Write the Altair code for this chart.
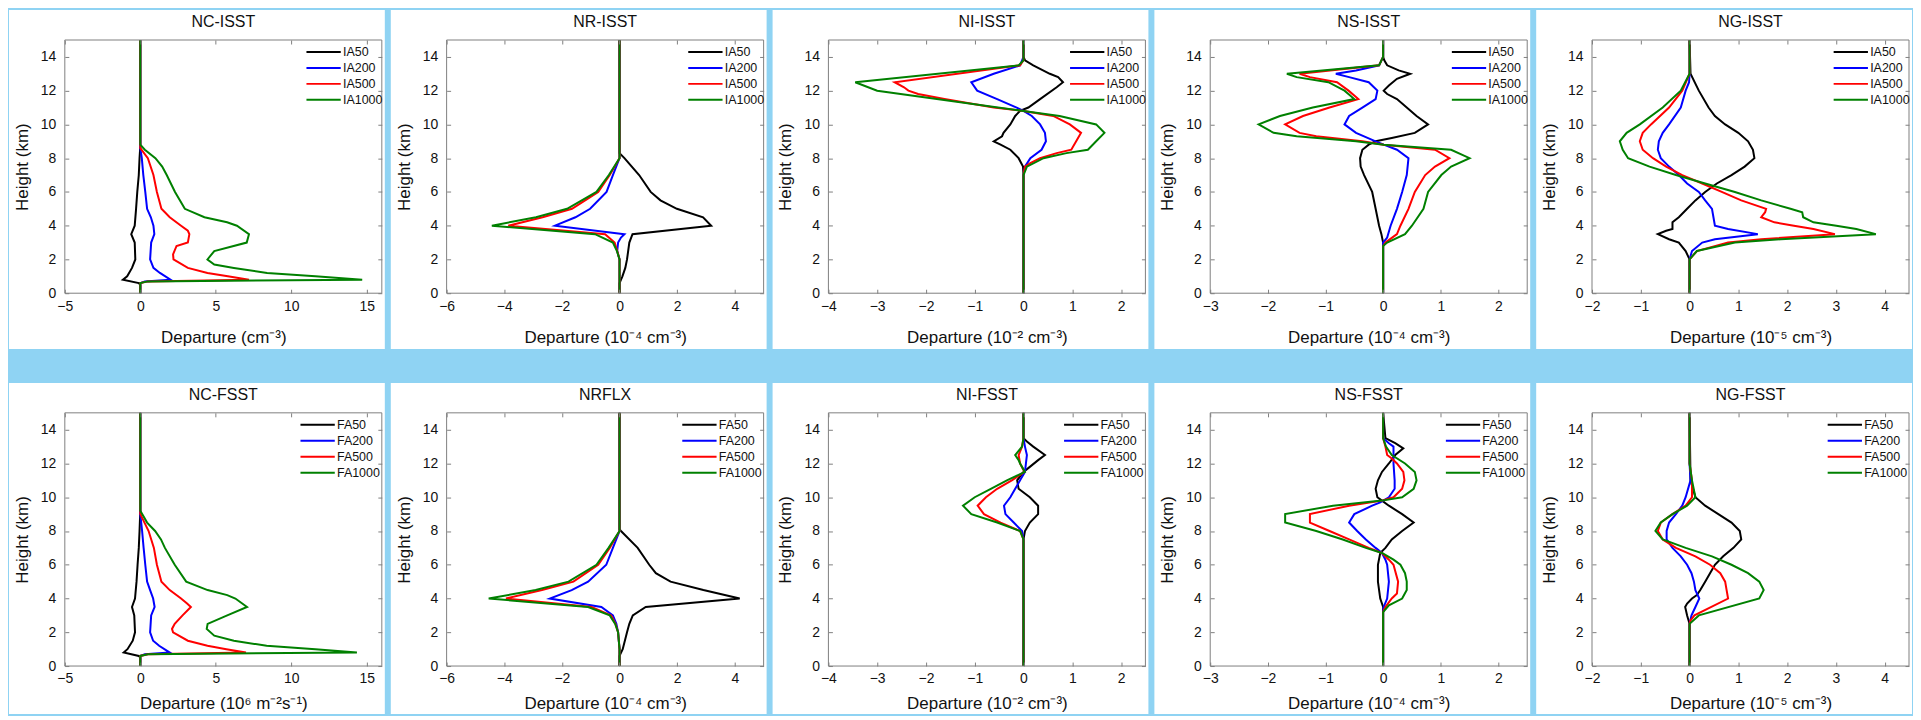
import altair as alt
import pandas as pd

W, H = 318, 254
FONT = "Liberation Sans"
HEIGHT_TICKS = [0, 2, 4, 6, 8, 10, 12, 14]
COLORS = ["#000000", "#0000ff", "#ff0000", "#008000"]
IA_NAMES = ["IA50", "IA200", "IA500", "IA1000"]
FA_NAMES = ["FA50", "FA200", "FA500", "FA1000"]

# ---- values: (height km, departure) ----
NC_ISST = {
    "IA50": [(15, 0), (8.7, 0), (8, -0.05), (7, -0.1), (6, -0.2), (5, -0.28), (4, -0.37), (3.5, -0.6), (3, -0.37), (2, -0.33), (1.5, -0.55), (1.0, -0.87), (0.8, -1.15), (0.6, -0.1), (0.5, 0), (0, 0)],
    "IA200": [(15, 0), (8.6, 0), (8, 0.1), (7, 0.2), (6, 0.33), (5, 0.45), (4.5, 0.7), (4, 0.87), (3.5, 0.93), (3, 0.72), (2, 0.65), (1.5, 0.87), (1.2, 1.3), (0.8, 2.0), (0.7, 0.3), (0.6, 0), (0, 0)],
    "IA500": [(15, 0), (8.6, 0), (8, 0.5), (7, 0.87), (6, 1.1), (5, 1.4), (4.5, 1.95), (4, 2.7), (3.7, 3.15), (3.5, 3.25), (3, 3.15), (2.8, 2.4), (2.3, 2.17), (2, 2.2), (1.5, 3.15), (1.2, 4.45), (1.0, 5.8), (0.8, 7.2), (0.7, 0.5), (0.6, 0), (0, 0)],
    "IA1000": [(15, 0), (8.8, 0), (8.5, 0.3), (8, 1.0), (7.5, 1.45), (7, 1.75), (6, 2.3), (5, 2.95), (4.5, 4.25), (4.2, 5.75), (4, 6.4), (3.5, 7.2), (3, 7.05), (2.5, 4.9), (2, 4.45), (1.7, 4.9), (1.5, 6.2), (1.2, 8.4), (1.0, 11.6), (0.8, 14.7), (0.7, 0.5), (0.6, 0), (0, 0)],
}
NR_ISST = {
    "IA50": [(15, 0), (8.3, 0), (8, 0.17), (7, 0.68), (6, 1.08), (5.5, 1.42), (5, 1.99), (4.5, 2.9), (4, 3.18), (3.5, 0.45), (3, 0.34), (2, 0.26), (1.5, 0.2), (1, 0.1), (0.6, 0), (0, 0)],
    "IA200": [(15, 0), (8.0, 0), (7, -0.23), (6, -0.45), (5, -1.02), (4.5, -1.53), (4, -2.24), (3.5, 0.17), (3.3, 0.05), (3, -0.05), (2.5, -0.08), (2, 0), (0, 0)],
    "IA500": [(15, 0), (8.0, 0), (7, -0.34), (6, -0.74), (5, -1.65), (4.5, -2.67), (4, -3.86), (3.5, -0.5), (3, -0.17), (2.5, -0.08), (2, 0), (0, 0)],
    "IA1000": [(15, 0), (8.0, 0), (7, -0.37), (6, -0.8), (5, -1.82), (4.5, -2.9), (4, -4.43), (3.5, -0.85), (3, -0.23), (2.5, -0.09), (2, 0), (0, 0)],
}
NI_ISST = {
    "IA50": [(15, 0), (14, 0), (13.8, 0.03), (13.5, 0.2), (13, 0.54), (12.8, 0.71), (12.5, 0.81), (12.2, 0.68), (11.5, 0.34), (11, 0.1), (10.8, -0.07), (10.5, -0.17), (10, -0.27), (9.5, -0.41), (9.3, -0.44), (9, -0.61), (8.8, -0.47), (8.5, -0.27), (8, -0.1), (7.5, -0.01), (7, 0), (0, 0)],
    "IA200": [(15, 0), (14, 0), (13.5, -0.07), (13, -0.61), (12.5, -1.07), (12, -0.95), (11.5, -0.54), (11, -0.14), (10.8, 0), (10.5, 0.17), (10, 0.34), (9.5, 0.44), (9, 0.46), (8.5, 0.37), (8, 0.14), (7.5, 0.03), (7, 0), (0, 0)],
    "IA500": [(15, 0), (13.8, 0), (13.5, -0.07), (12.5, -2.64), (12.2, -2.45), (12, -2.36), (11.8, -2.16), (11.5, -1.62), (11, -0.61), (10.8, 0), (10.5, 0.61), (10, 0.95), (9.5, 1.18), (9, 1.08), (8.5, 0.98), (8.3, 0.68), (8, 0.34), (7.7, 0.14), (7.5, 0.03), (7, 0), (0, 0)],
    "IA1000": [(15, 0), (13.8, 0), (13.5, -0.1), (12.5, -3.45), (12, -3.0), (10.8, 0), (10.5, 0.74), (10, 1.49), (9.5, 1.66), (9, 1.49), (8.5, 1.32), (8.3, 0.88), (8, 0.41), (7.5, 0.07), (7, 0), (0, 0)],
}
NS_ISST = {
    "IA50": [(15, 0), (14, 0), (13.8, 0.02), (13.5, 0.07), (13.2, 0.27), (13, 0.47), (12.7, 0.24), (12.3, 0.1), (12, 0.01), (11.8, 0.07), (11.5, 0.24), (11, 0.41), (10.5, 0.58), (10, 0.78), (9.5, 0.55), (9.2, 0.15), (9, -0.13), (8.8, -0.25), (8.5, -0.36), (8, -0.4), (7.5, -0.39), (7, -0.33), (6, -0.19), (5, -0.13), (4, -0.07), (3.5, -0.03), (3, 0), (0, 0)],
    "IA200": [(15, 0), (14, 0), (13.5, -0.07), (13.2, -0.47), (13, -0.82), (12.8, -0.59), (12.5, -0.25), (12, -0.1), (11.5, -0.13), (11, -0.36), (10.5, -0.59), (10, -0.67), (9.5, -0.47), (9, -0.13), (8.8, 0.01), (8.5, 0.24), (8, 0.44), (7, 0.41), (6, 0.33), (5, 0.24), (4, 0.13), (3.3, 0.07), (3, 0), (0, 0)],
    "IA500": [(15, 0), (14, 0), (13.5, -0.07), (13, -1.45), (12.8, -1.27), (12.5, -0.8), (12, -0.6), (11.5, -0.43), (11, -0.93), (10.5, -1.39), (10, -1.7), (9.5, -1.45), (9.3, -1.16), (9, -0.36), (8.8, 0.01), (8.5, 0.9), (8, 1.15), (7.5, 0.9), (7, 0.73), (6, 0.55), (5, 0.44), (4, 0.3), (3.5, 0.24), (3, 0.04), (2.8, 0), (0, 0)],
    "IA1000": [(15, 0), (14, 0), (13.5, -0.07), (13, -1.67), (12.8, -1.5), (12.5, -0.95), (12, -0.67), (11.5, -0.5), (11, -1.22), (10.5, -1.79), (10, -2.16), (9.5, -1.9), (9.3, -1.5), (9, -0.47), (8.8, 0.01), (8.5, 1.18), (8, 1.5), (7.5, 1.18), (7, 1.01), (6, 0.78), (5, 0.7), (4, 0.5), (3.5, 0.38), (3, 0.07), (2.8, 0), (0, 0)],
}
NG_ISST = {
    "IA50": [(15, 0), (13, 0.02), (12, 0.19), (11, 0.39), (10.5, 0.52), (10, 0.73), (9.5, 1.0), (9, 1.2), (8.5, 1.3), (8, 1.33), (7.5, 1.13), (7, 0.86), (6.5, 0.56), (6, 0.32), (5.5, 0.12), (5, -0.05), (4.5, -0.22), (4.2, -0.35), (3.8, -0.35), (3.7, -0.48), (3.5, -0.65), (3.2, -0.42), (3, -0.22), (2.5, -0.08), (2, 0), (0, 0)],
    "IA200": [(15, 0), (13, 0), (12.5, -0.01), (12, -0.08), (11, -0.18), (10, -0.42), (9.5, -0.55), (9, -0.63), (8.5, -0.65), (8, -0.59), (7.5, -0.42), (7, -0.22), (6.5, -0.05), (6, 0.19), (5.5, 0.32), (5, 0.46), (4.5, 0.49), (4, 0.52), (3.8, 0.79), (3.5, 1.4), (3.2, 0.52), (3, 0.26), (2.5, 0.05), (2, 0), (0, 0)],
    "IA500": [(15, 0), (13, 0), (12, -0.15), (11, -0.42), (10, -0.79), (9.5, -0.96), (9, -1.02), (8.5, -0.96), (8, -0.75), (7.5, -0.48), (7, -0.15), (6.5, 0.26), (6, 0.66), (5.5, 1.06), (5, 1.57), (4.8, 1.55), (4.5, 1.47), (4.2, 1.74), (4, 2.14), (3.8, 2.54), (3.5, 2.98), (3.2, 1.47), (3, 0.79), (2.5, 0.15), (2, 0), (0, 0)],
    "IA1000": [(15, 0), (13, 0), (12, -0.18), (11, -0.55), (10, -1.02), (9.5, -1.29), (9, -1.43), (8.5, -1.37), (8, -1.26), (7.5, -0.82), (7, -0.28), (6.5, 0.32), (6, 0.93), (5.5, 1.47), (5, 2.07), (4.8, 2.31), (4.5, 2.33), (4.2, 2.54), (4, 3.01), (3.8, 3.42), (3.5, 3.82), (3.2, 1.87), (3, 0.93), (2.5, 0.15), (2, 0), (0, 0)],
}
NC_FSST = {
    "FA50": [(15, 0), (9.2, 0), (8, -0.05), (7, -0.1), (6, -0.18), (5, -0.25), (4, -0.35), (3.5, -0.55), (3, -0.4), (2, -0.35), (1.5, -0.5), (1.0, -0.85), (0.8, -1.1), (0.6, -0.1), (0.5, 0), (0, 0)],
    "FA200": [(15, 0), (9.0, 0), (8, 0.12), (7, 0.22), (6, 0.33), (5, 0.45), (4.5, 0.65), (4, 0.85), (3.5, 0.95), (3, 0.72), (2, 0.65), (1.5, 0.85), (1.2, 1.25), (0.8, 1.95), (0.7, 0.3), (0.6, 0), (0, 0)],
    "FA500": [(15, 0), (9.0, 0), (8, 0.55), (7, 0.9), (6, 1.1), (5, 1.4), (4.5, 1.95), (4, 2.7), (3.7, 3.1), (3.5, 3.35), (3, 2.8), (2.5, 2.28), (2.2, 2.1), (2, 2.17), (1.5, 3.15), (1.2, 4.45), (1.0, 5.7), (0.8, 7.0), (0.7, 0.5), (0.6, 0), (0, 0)],
    "FA1000": [(15, 0), (9.2, 0), (8.5, 0.45), (8, 0.98), (7.5, 1.37), (7, 1.63), (6, 2.28), (5, 3.04), (4.5, 4.46), (4.2, 5.76), (4, 6.3), (3.5, 7.07), (3, 5.76), (2.5, 4.46), (2.2, 4.4), (1.8, 4.9), (1.5, 6.2), (1.2, 8.37), (1.0, 11.6), (0.8, 14.35), (0.7, 0.5), (0.6, 0), (0, 0)],
}
NRFLX = {
    "FA50": [(15, 0), (8.1, 0), (8, 0.05), (7, 0.63), (6, 1.03), (5.5, 1.26), (5, 1.77), (4.5, 2.91), (4, 4.17), (3.5, 0.91), (3, 0.46), (2.5, 0.34), (2, 0.26), (1, 0.11), (0.6, 0), (0, 0)],
    "FA200": [(15, 0), (8.0, 0), (7, -0.23), (6, -0.46), (5, -1.09), (4.5, -1.66), (4, -2.42), (3.5, -0.63), (3, -0.23), (2.5, -0.11), (2, -0.05), (1, 0), (0, 0)],
    "FA500": [(15, 0), (8.0, 0), (7, -0.34), (6, -0.74), (5, -1.6), (4.5, -2.69), (4, -3.94), (3.5, -0.97), (3, -0.29), (2.5, -0.14), (2, -0.05), (1, 0), (0, 0)],
    "FA1000": [(15, 0), (8.0, 0), (7, -0.38), (6, -0.8), (5, -1.77), (4.5, -2.91), (4, -4.54), (3.5, -1.09), (3, -0.34), (2.5, -0.15), (2, -0.05), (1, 0), (0, 0)],
}
NI_FSST = {
    "FA50": [(15, 0), (13.5, 0), (13.3, 0.07), (13, 0.2), (12.5, 0.44), (12.2, 0.3), (11.8, 0.13), (11.5, 0), (11, -0.13), (10.5, -0.1), (10, 0.13), (9.5, 0.3), (9, 0.3), (8.5, 0.13), (8, 0.03), (7.5, 0), (0, 0)],
    "FA200": [(15, 0), (13.5, 0), (13, 0.03), (12.5, 0.07), (12, 0.05), (11.5, 0.03), (11, -0.07), (10.5, -0.17), (10, -0.27), (9.5, -0.4), (9, -0.37), (8.5, -0.2), (8, -0.03), (7.5, 0), (0, 0)],
    "FA500": [(15, 0), (13.5, 0), (13, -0.03), (12.5, -0.1), (12, -0.07), (11.5, 0.02), (11, -0.24), (10.5, -0.54), (10, -0.77), (9.5, -0.94), (9, -0.81), (8.5, -0.47), (8, -0.07), (7.5, 0), (0, 0)],
    "FA1000": [(15, 0), (13.5, 0), (13, -0.03), (12.5, -0.17), (12.2, -0.1), (12, -0.07), (11.5, 0.03), (11, -0.34), (10.5, -0.67), (10, -1.0), (9.5, -1.24), (9, -1.07), (8.5, -0.54), (8, -0.07), (7.5, 0), (0, 0)],
}
NS_FSST = {
    "FA50": [(15, 0), (13.5, 0.04), (13.2, 0.21), (12.9, 0.35), (12.5, 0.21), (12, 0.1), (11.5, -0.02), (11, -0.09), (10.5, -0.13), (10, -0.1), (9.8, -0.02), (9.5, 0.1), (9, 0.33), (8.5, 0.53), (8, 0.33), (7.5, 0.15), (7, 0.04), (6.7, -0.05), (6, -0.09), (5, -0.09), (4.5, -0.07), (4, -0.05), (3.5, 0), (0, 0)],
    "FA200": [(15, 0), (13.5, 0), (13.2, 0.1), (13, 0.18), (12, 0.18), (11, 0.2), (10.5, 0.2), (10, 0.1), (9.7, -0.05), (9.5, -0.19), (9, -0.5), (8.5, -0.59), (8, -0.45), (7.5, -0.3), (7, -0.13), (6.7, -0.02), (6.3, 0.04), (6, 0.07), (5, 0.1), (4, 0.07), (3.5, 0.01), (3.2, 0), (0, 0)],
    "FA500": [(15, 0), (13.5, 0), (13, 0.04), (12.5, 0.07), (12.3, 0.15), (12, 0.24), (11.5, 0.35), (11, 0.37), (10.5, 0.33), (10, 0.18), (9.8, -0.02), (9.5, -0.59), (9, -1.27), (8.5, -1.27), (8, -0.93), (7.5, -0.59), (7, -0.25), (6.7, -0.02), (6.3, 0.1), (6, 0.18), (5, 0.26), (4.3, 0.24), (4, 0.15), (3.5, 0.04), (3.2, 0), (0, 0)],
    "FA1000": [(15, 0), (13.5, 0), (13, 0.05), (12.5, 0.15), (12, 0.38), (11.5, 0.55), (11, 0.58), (10.5, 0.53), (10, 0.33), (9.8, -0.02), (9.5, -0.87), (9, -1.7), (8.5, -1.7), (8, -1.16), (7.5, -0.7), (7, -0.3), (6.7, -0.02), (6.3, 0.18), (6, 0.3), (5.5, 0.38), (5, 0.41), (4.5, 0.41), (4, 0.33), (3.6, 0.1), (3.2, 0), (0, 0)],
}
NG_FSST = {
    "FA50": [(15, 0), (11, 0.02), (10, 0.12), (9.5, 0.32), (9, 0.59), (8.5, 0.86), (8, 1.03), (7.5, 1.06), (7, 0.9), (6.5, 0.69), (6, 0.52), (5.5, 0.42), (5, 0.32), (4.5, 0.22), (4.2, 0.15), (4, 0.05), (3.7, -0.05), (3.5, -0.09), (3, -0.05), (2.5, 0), (0, 0)],
    "FA200": [(15, 0), (12, 0), (11, 0.02), (10, -0.08), (9.5, -0.15), (9, -0.28), (8.5, -0.42), (8, -0.47), (7.5, -0.47), (7, -0.35), (6.5, -0.18), (6, -0.05), (5.5, 0.04), (5, 0.09), (4.5, 0.12), (4, 0.2), (3.5, 0.12), (3, 0.04), (2.5, 0), (0, 0)],
    "FA500": [(15, 0), (12, 0), (11, 0.05), (10, 0.05), (9.5, -0.08), (9, -0.35), (8.5, -0.59), (8, -0.65), (7.5, -0.55), (7, -0.28), (6.5, 0.12), (6, 0.42), (5.5, 0.63), (5, 0.73), (4.5, 0.76), (4, 0.79), (3, 0.1), (2.7, 0.02), (2.5, 0), (0, 0)],
    "FA1000": [(15, 0), (12, 0), (11, 0.05), (10, 0.12), (9.5, -0.05), (9, -0.35), (8.5, -0.59), (8, -0.7), (7.5, -0.55), (7, -0.08), (6.5, 0.46), (6, 0.86), (5.5, 1.2), (5, 1.43), (4.5, 1.52), (4, 1.43), (3, 0.19), (2.5, 0), (0, 0)],
}

# panel titles, x ranges, x tick values and x axis titles
TOP_PANELS = [
    ("NC-ISST", NC_ISST, [-5, 16], [-5, 0, 5, 10, 15], "Departure (cm⁻³)"),
    ("NR-ISST", NR_ISST, [-6, 5], [-6, -4, -2, 0, 2, 4], "Departure (10⁻⁴ cm⁻³)"),
    ("NI-ISST", NI_ISST, [-4, 2.5], [-4, -3, -2, -1, 0, 1, 2], "Departure (10⁻² cm⁻³)"),
    ("NS-ISST", NS_ISST, [-3, 2.5], [-3, -2, -1, 0, 1, 2], "Departure (10⁻⁴ cm⁻³)"),
    ("NG-ISST", NG_ISST, [-2, 4.5], [-2, -1, 0, 1, 2, 3, 4], "Departure (10⁻⁵ cm⁻³)"),
]
BOTTOM_PANELS = [
    ("NC-FSST", NC_FSST, [-5, 16], [-5, 0, 5, 10, 15], "Departure (10⁶  m⁻²s⁻¹)"),
    ("NRFLX", NRFLX, [-6, 5], [-6, -4, -2, 0, 2, 4], "Departure (10⁻⁴ cm⁻³)"),
    ("NI-FSST", NI_FSST, [-4, 2.5], [-4, -3, -2, -1, 0, 1, 2], "Departure (10⁻² cm⁻³)"),
    ("NS-FSST", NS_FSST, [-3, 2.5], [-3, -2, -1, 0, 1, 2], "Departure (10⁻⁴ cm⁻³)"),
    ("NG-FSST", NG_FSST, [-2, 4.5], [-2, -1, 0, 1, 2, 3, 4], "Departure (10⁻⁵ cm⁻³)"),
]

AX = dict(zindex=1, domain=False, grid=False, tickColor="#808080", tickSize=4, tickWidth=1,
          labelFlush=False, labelOverlap=False, offset=-4,
          labelFont=FONT, titleFont=FONT, labelFontSize=14, titleFontSize=17,
          titleFontWeight="normal", labelColor="#111111", titleColor="#111111")


def panel(title, series, names, xdom, xticks, xtitle, bottom_ext, title_pad, legend_x):
    df = pd.DataFrame([{"series": n, "h": h, "x": v} for n in names for h, v in series[n]])
    xs = alt.Scale(domain=xdom, nice=False, zero=False)
    ys = alt.Scale(domain=[0, 15], nice=False, zero=False)
    one = alt.Data(values=[{"k": 1}])

    bg = alt.Chart(one).mark_rect(fill="white").encode(
        x=alt.value(-56), x2=alt.value(W + 3), y=alt.value(-30), y2=alt.value(H + bottom_ext)
    )
    head = alt.Chart(one).mark_text(
        text=title, font=FONT, fontSize=16, color="#111111", align="center", baseline="alphabetic"
    ).encode(x=alt.value(W / 2), y=alt.value(-13))
    lines = alt.Chart(df).mark_line(strokeWidth=2).encode(
        x=alt.X("x:Q", scale=xs, axis=alt.Axis(orient="bottom", values=xticks, title=xtitle,
                                               labelPadding=6, titlePadding=title_pad, **AX)),
        y=alt.Y("h:Q", scale=ys, axis=alt.Axis(orient="left", values=HEIGHT_TICKS, title="Height (km)",
                                               labelPadding=9, titlePadding=9, **AX)),
        color=alt.Color("series:N", scale=alt.Scale(domain=names, range=COLORS),
                        legend=alt.Legend(title=None, orient="none", legendX=legend_x, legendY=3,
                                          symbolType="M-3.2,0L1.1,0", symbolSize=256, symbolStrokeWidth=2,
                                          labelFont=FONT, labelFontSize=12.5, labelColor="#111111",
                                          labelOffset=2, padding=0, rowPadding=0)),
        order=alt.Order("h:Q"),
    )
    frame = alt.Chart(one).mark_rect(fillOpacity=0, stroke="#808080", strokeWidth=1).encode(
        x=alt.value(0), x2=alt.value(W), y=alt.value(0), y2=alt.value(H)
    )
    ticks = alt.Chart(df).mark_point(opacity=0).encode(
        x=alt.X("x:Q", scale=xs, axis=alt.Axis(orient="top", values=xticks, labels=False, title=None, **AX)),
        y=alt.Y("h:Q", scale=ys, axis=alt.Axis(orient="right", values=HEIGHT_TICKS, labels=False, title=None, **AX)),
    )
    return alt.layer(bg, head, lines, frame, ticks).resolve_axis(
        x="independent", y="independent"
    ).properties(width=W, height=H)


row1 = alt.hconcat(*[panel(t, s, IA_NAMES, d, v, xt, 56, 16, W - 59) for t, s, d, v, xt in TOP_PANELS], spacing=4)
row1 = row1.resolve_scale(color="independent", x="independent", y="independent").resolve_legend(color="independent")
row2 = alt.hconcat(*[panel(t, s, FA_NAMES, d, v, xt, 48, 10, W - 65) for t, s, d, v, xt in BOTTOM_PANELS], spacing=4)
row2 = row2.resolve_scale(color="independent", x="independent", y="independent").resolve_legend(color="independent")

chart = (
    alt.vconcat(row1, row2, spacing=32)
    .resolve_scale(color="independent", x="independent", y="independent")
    .resolve_legend(color="independent")
    .properties(background="#8fd3f3", padding=0)
    .configure_view(stroke="transparent")
)

chart.save("out.html", embed_options={"renderer": "svg", "actions": False})
